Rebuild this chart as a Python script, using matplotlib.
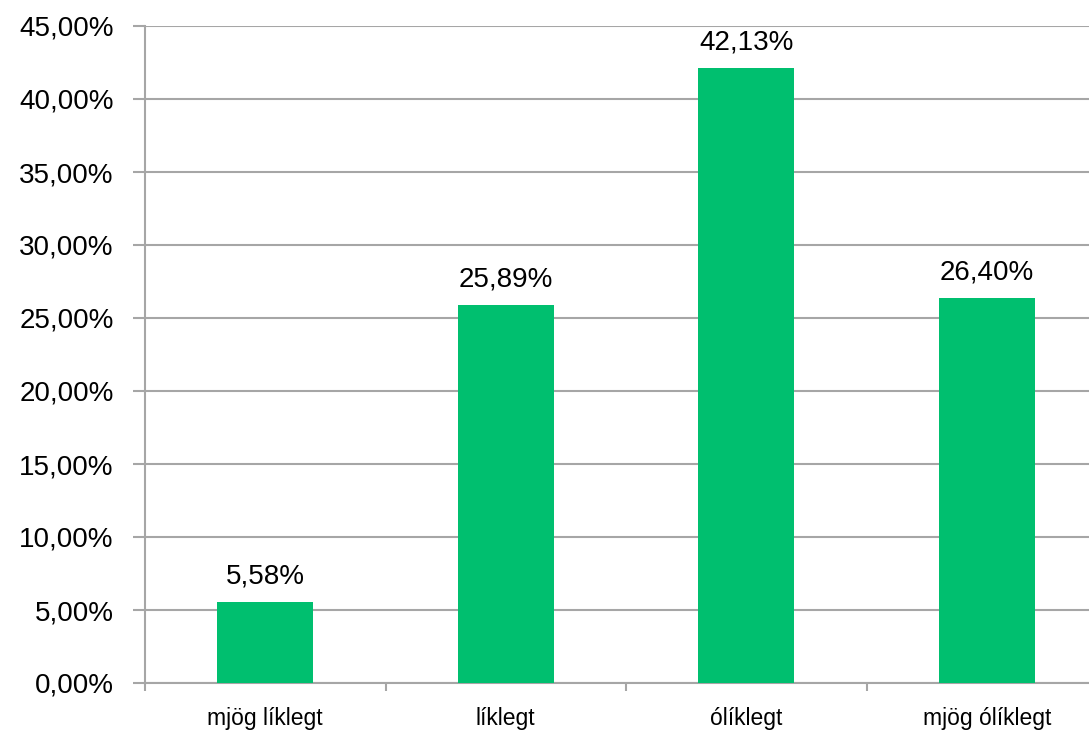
import matplotlib
matplotlib.use("Agg")
import matplotlib.pyplot as plt
from matplotlib.ticker import FuncFormatter

# Gögn
categories = ['mjög líklegt', 'líklegt', 'ólíklegt', 'mjög ólíklegt']
values = [5.58, 25.89, 42.13, 26.40]
yticks = [0, 5, 10, 15, 20, 25, 30, 35, 40, 45]

plt.rcParams['font.family'] = ['Liberation Sans', 'DejaVu Sans']

fig = plt.figure(figsize=(10.89, 7.31), dpi=100)
# ásinn nær út fyrir hægri brún myndarinnar eins og í upprunalegu myndinni
ax = fig.add_axes([145 / 1089, 1 - 683 / 731, 962 / 1089, 657 / 731])

grid_col = '#A6A6A6'
x = range(len(categories))
ax.bar(x, values, width=0.4, color='#00BF6F', zorder=3)

for xi, v in zip(x, values):
    ax.annotate(f'{v:.2f}%'.replace('.', ','), (xi, v), xytext=(0, 9),
                textcoords='offset points', ha='center', va='bottom', fontsize=20)

ax.set_ylim(0, 45)
ax.set_xlim(-0.5, len(categories) - 0.5)
ax.set_yticks(yticks)
ax.yaxis.set_major_formatter(FuncFormatter(lambda v, p: f'{v:.2f}%'.replace('.', ',')))
ax.yaxis.grid(True, color=grid_col, linewidth=1.5, zorder=0)
ax.tick_params(axis='y', length=8.5, width=1.5, color=grid_col, pad=14, labelsize=20)

ax.set_xticks(list(x))
ax.set_xticklabels(categories, fontsize=16.5)
ax.set_xticks([i - 0.5 for i in range(len(categories) + 1)], minor=True)
ax.tick_params(axis='x', which='major', length=0, pad=17)
ax.tick_params(axis='x', which='minor', length=6, width=1.5, color=grid_col)

for s in ['top', 'right']:
    ax.spines[s].set_visible(False)
for s in ['left', 'bottom']:
    ax.spines[s].set_color(grid_col)
    ax.spines[s].set_linewidth(1.5)

fig.savefig('out.png', dpi=100)
